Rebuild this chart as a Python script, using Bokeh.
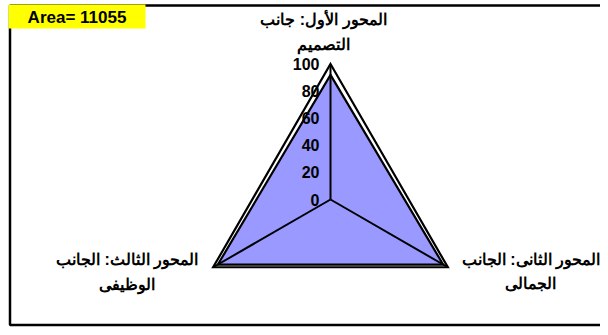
import numpy as np
from bokeh.plotting import figure
from bokeh.models import Range1d, BoxAnnotation, Label
from bokeh.embed import file_html
from bokeh.resources import INLINE
from bokeh.core.properties import value

# ---- data ----
axis_line1 = ["المحور الأول: جانب", "المحور الثانى: الجانب", "المحور الثالث: الجانب"]
axis_line2 = ["التصميم", "الجمالى", "الوظيفى"]
axis_angles_deg = [90, -30, 210]
scores = [92, 96, 96]
ticks = [0, 20, 40, 60, 80, 100]
tick_labels = ["0", "20", "40", "60", "80", "100"]
r_max = 100
area_text = "Area= 11055"

# ---- layout (pixels) ----
W, H = 600, 327
S = 1.355           # pixels per value unit
CX, CY = 330, 199   # centre of the radar in canvas pixels (from top-left)

def px2x(px):
    return (px - CX) / S

def py2y(py):
    return (CY - py) / S

p = figure(width=W, height=H, output_backend="svg", toolbar_location=None,
           x_range=Range1d(px2x(0), px2x(W)), y_range=Range1d(py2y(H), py2y(0)),
           x_axis_type=None, y_axis_type=None, min_border=0,
           outline_line_color=None, background_fill_color="white",
           border_fill_color="white")
p.grid.visible = False

ang = np.deg2rad(axis_angles_deg)
ux, uy = np.cos(ang), np.sin(ang)
sc = np.array(scores, dtype=float)

FONT = "Liberation Sans"

# data fill
p.patch(list(sc * ux), list(sc * uy), fill_color="#9999FF", line_color=None)

# value axis labels
p.text(x=[0] * len(ticks), y=ticks, text=tick_labels, x_offset=-11,
       text_align="right", text_baseline="middle", text_font=value(FONT),
       text_font_style="bold", text_font_size="16px", text_color="black")

# spokes
p.segment(x0=[0] * 3, y0=[0] * 3, x1=list(r_max * ux), y1=list(r_max * uy),
          line_color="black", line_width=2)

# outer gridline at 100
p.patch(list(r_max * ux), list(r_max * uy), fill_color=None,
        line_color="black", line_width=2.2, line_join="miter")

# data outline
p.patch(list(sc * ux), list(sc * uy), fill_color=None,
        line_color="black", line_width=2.2, line_join="miter")

# category labels (two lines each)
off_x = [-7, 83, -86]
off_y1 = [-45, -8, -8]
off_y2 = [-20, 16, 17]
vx, vy = list(r_max * ux), list(r_max * uy)
p.text(x=vx, y=vy, text=axis_line1, x_offset=off_x, y_offset=off_y1,
       text_align="center", text_baseline="middle", text_font=value(FONT),
       text_font_style="bold", text_font_size="16px", text_color="black")
p.text(x=vx, y=vy, text=axis_line2, x_offset=off_x, y_offset=off_y2,
       text_align="center", text_baseline="middle", text_font=value(FONT),
       text_font_style="bold", text_font_size="16px", text_color="black")

# chart frame (right edge runs off the picture)
p.add_layout(BoxAnnotation(left=px2x(9.5), right=px2x(W + 50), top=py2y(5),
                           bottom=py2y(H - 2.5), fill_alpha=0, line_color="black",
                           line_width=2.5, line_alpha=1))
# yellow area box
p.add_layout(BoxAnnotation(left=px2x(8), right=px2x(145), top=py2y(4),
                           bottom=py2y(28), fill_color="#FFFF00", fill_alpha=1,
                           line_color=None))
p.add_layout(Label(x=px2x(76.5), y=py2y(16.5), text=area_text, text_align="center",
                   text_baseline="middle", text_font=FONT, text_font_style="bold",
                   text_font_size="17px", text_color="black"))

open("out.html", "w").write(file_html(p, INLINE))
